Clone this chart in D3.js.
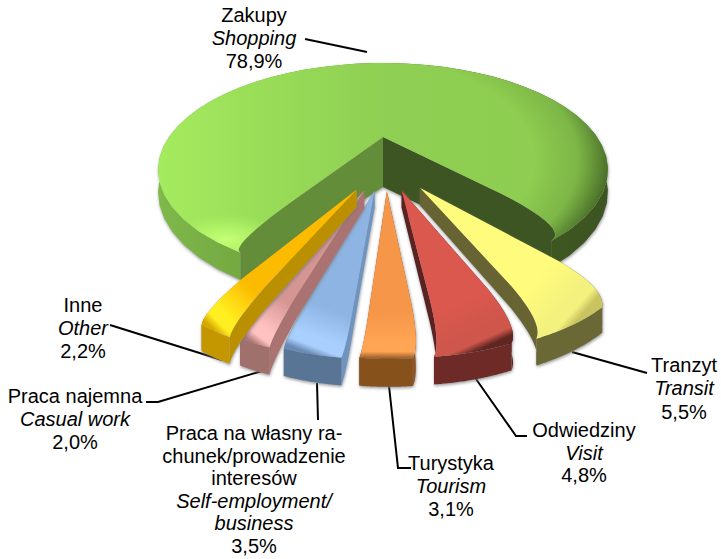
<!DOCTYPE html>
<html><head><meta charset="utf-8">
<script src="https://cdn.jsdelivr.net/npm/d3@7"></script>
<style>html,body{margin:0;padding:0;background:#fff}svg{display:block}text{font-family:"Liberation Sans",Arial,sans-serif;font-size:20px;fill:#000;text-anchor:middle}</style>
</head><body><svg id="c" width="721" height="559"></svg>
<script>
// ---- data ----
const categoriesPL = ["Zakupy","Tranzyt","Odwiedziny","Turystyka","Praca na własny ra-|chunek/prowadzenie|interesów","Praca najemna","Inne"];
const categoriesEN = ["Shopping","Transit","Visit","Tourism","Self-employment/|business","Casual work","Other"];
const values = [78.9,5.5,4.8,3.1,3.5,2.0,2.2];
const valueLabels = ["78,9%","5,5%","4,8%","3,1%","3,5%","2,0%","2,2%"];

// ---- look ----
const faceColors = [
 {top:"#8fcf52",hi:"#8fcf52",rim:"#6f9f3e",side:"#3d5520"},
 {top:"#fffb7c",hi:"#f4f27e",end:"#c9c360",rim:"#6b6735",side:"#686433"},
 {top:"#da594d",hi:"#cf564c",end:"#5f2522",rim:"#6d2927",side:"#5a2320"},
 {top:"#f6964a",hi:"#ffa553",end:"#8f5526",rim:"#87511f",side:"#8f5526"},
 {top:"#8eb4e3",hi:"#a9cfff",end:"#6a8ab4",rim:"#587596",side:"#7094c0"},
 {top:"#d59593",hi:"#ffc2c0",end:"#ac7775",rim:"#a06f6d",side:"#aa7371"},
 {top:"#fdbb00",hi:"#ffee20",end:"#d6a800",rim:"#c49600",side:"#bb9000"}
];

const svg = d3.select("#c");
const defs = svg.append("defs");
const RAD = Math.PI/180;

// ---- projection of the tilted disc, with perspective ----
const persp = 0.308;
const xS = d3.scaleLinear().domain([-1,1]).range([383-214,383+214]);
const yS = d3.scaleLinear().domain([-1,1]).range([137-96.8,137+96.8]);
function P(w,z=0){const s=1/(1-persp*w[1]);return [xS(w[0]*s),yS(w[1]*s)-z*s];}
const line = d3.line();

// ---- pie angles ----
const pie = d3.pie().sort(null).value(d=>d).startAngle(-147.4*RAD).endAngle((360-147.4)*RAD);
const arcs = pie(values);
// phi: angle from the front of the disc, positive to the right
const phiOf = a => Math.PI - a;
const polar = (c,r,phi)=>[c[0]+r*Math.sin(phi),c[1]+r*Math.cos(phi)];

function edge(tip,phi,R,straight,pull,ctrl){
  const cor = polar(tip,R,pull*phi - 1.1*RAD);
  const a = polar(tip,straight*R,phi), b = polar(tip,ctrl*R,phi);
  const pts=[tip,a];
  d3.range(1,13).forEach(i=>{const t=i/12,u=1-t;
    pts.push([u*u*a[0]+2*u*t*b[0]+t*t*cor[0],u*u*a[1]+2*u*t*b[1]+t*t*cor[1]]);});
  return pts;
}
function rimPts(tip,R,phiFrom,phiTo){
  const n=48; return d3.range(n+1).map(i=>polar(tip,R,phiFrom+(phiTo-phiFrom)*i/n));
}

// ---- shadow & gradients ----
const f = defs.append("filter").attr("id","sh").attr("x","-20%").attr("y","-20%").attr("width","140%").attr("height","140%");
f.append("feDropShadow").attr("dx",0.5).attr("dy",1.5).attr("stdDeviation",1.6).attr("flood-color","#777").attr("flood-opacity",0.75);

function lin(id,x1,y1,x2,y2,stops){
  const g=defs.append("linearGradient").attr("id",id).attr("gradientUnits","userSpaceOnUse")
    .attr("x1",x1).attr("y1",y1).attr("x2",x2).attr("y2",y2);
  stops.forEach(s=>g.append("stop").attr("offset",s[0]).attr("stop-color",s[1]).attr("stop-opacity",s[2]===undefined?1:s[2]));
}
function rad(id,cx,cy,rx,ry,stops){
  const g=defs.append("radialGradient").attr("id",id).attr("gradientUnits","userSpaceOnUse")
    .attr("cx",0).attr("cy",0).attr("r",1)
    .attr("gradientTransform",`translate(${cx},${cy}) scale(${rx},${ry})`);
  stops.forEach(s=>g.append("stop").attr("offset",s[0]).attr("stop-color",s[1]).attr("stop-opacity",s[2]));
}

// ---- leader lines ----
const leaders=[
 [[305,39],[367,52]],
 [[647,373],[572,352]],
 [[527,436],[516,436],[476,379]],
 [[411,468],[398,468],[389,386]],
 [[318,420],[317,383]],
 [[146,402],[158,402],[262,371]],
 [[110,325],[222,360]]
];
svg.append("g").selectAll("path").data(leaders).join("path")
  .attr("d",d=>line(d)).attr("fill","none").attr("stroke","#000").attr("stroke-width",2);

// ---- main slice ----
(function(){
  const a=arcs[0], o=[0,0], R=1, pull=0.86;
  const phiL=Math.PI-(a.startAngle+2*Math.PI), phiR=phiOf(a.endAngle); // left edge, right edge
  const eL=edge(o,phiL,R,0.62,pull,1), eR=edge(o,phiR,R,0.62,pull,1);
  // rim runs the long way round, from the left corner over the back to the right corner
  const rim=rimPts(o,R,pull*phiL-1.1*RAD,pull*phiR-1.1*RAD-2*Math.PI);
  const g=svg.append("g").attr("filter","url(#sh)");
  lin("gSide",158,0,607,0,[[0,"#7fb949"],[0.2,"#73a741"],[0.36,"#699a3b"],[0.7,"#41591f"],[1,"#3c5420"]]);
  lin("gTop",158,0,607,0,[[0,"#a5eb5e"],[0.25,"#98dc58"],[0.5,"#8fcf52"],[1,"#8dcc50"]]);
  rad("gDark",340,160,270,150,[[0.72,"#3c5a20",0],[0.88,"#456a26",0.22],[1,"#3c5a20",0.85]]);
  rad("gLight",226,240,60,26,[[0,"#c6ff76",1],[0.5,"#bcfc6e",0.6],[1,"#b0f868",0]]);
  const down=(pts,z)=>pts.map(w=>P(w,z));
  // outer wall
  g.append("path").attr("fill","url(#gSide)")
    .attr("d",line(down(rim,0).concat(down(rim,-20).reverse()))+"Z");
  // cut faces: from the deep centre to the shallower rim
  const face=(e,col)=>g.append("path").attr("fill",col)
    .attr("d",line(down(e,0).concat([P(e[e.length-1],-20),P(o,-50)]))+"Z");
  face(eL,"#648d37"); face(eR,"#3d5520");
  const top=down(rim,0).concat(down(eR,0).reverse(),down(eL,0));
  const d=line(top)+"Z";
  g.append("path").attr("d",d).attr("fill","url(#gTop)");
  g.append("path").attr("d",d).attr("fill","url(#gDark)");
  g.append("path").attr("d",d).attr("fill","url(#gLight)");
})();

// ---- exploded slices ----
const tipRadius=0.478, sliceR=0.845, wallRim=20, wallTip=15, slicePull=0.905, rimDrop=3.5;
arcs.slice(1).forEach((a,i)=>{
  const col=faceColors[i+1];
  const phi0=phiOf(a.startAngle), phi1=phiOf(a.endAngle); // phi0 > phi1
  const mid=(phi0+phi1)/2;
  const tip=polar([0,0],tipRadius,0.5*mid+1.5*RAD);
  const e0=edge(tip,phi0,sliceR,0.76,slicePull,0.96), e1=edge(tip,phi1,sliceR,0.76,slicePull,0.96);
  const rim=rimPts(tip,sliceR,slicePull*phi0-1.1*RAD,slicePull*phi1-1.1*RAD);
  const g=svg.append("g").attr("filter","url(#sh)");
  const wall=(pts)=>pts.map((w,j)=>P(w,-(wallTip+(wallRim-wallTip)*j/(pts.length-1))));
  const crest=(pts)=>pts.map((w,j)=>P(w,j<2?0:-rimDrop*(j-1)/(pts.length-2)));
  [e0,e1].forEach(e=>g.append("path").attr("fill",col.side)
    .attr("d",line(crest(e).concat(wall(e).reverse()))+"Z"));
  const rimTop=rim.map(w=>P(w,-rimDrop)), rimBot=rim.map(w=>P(w,-wallRim));
  g.append("path").attr("fill",col.rim).attr("d",line(rimTop.concat(rimBot.slice().reverse()))+"Z");
  const top=crest(e0).concat(rimTop,crest(e1).reverse());
  const tp=P(tip,0), rc=P(polar(tip,sliceR,slicePull*mid-1.1*RAD),-rimDrop);
  const id="s"+i;
  lin(id,tp[0],tp[1],rc[0],rc[1],[[0,col.top],[0.72,col.top],[0.9,col.hi],[0.955,col.hi],[1,col.end]]);
  g.append("path").attr("d",line(top)+"Z").attr("fill",`url(#${id})`);
});

// ---- labels ----
const labelPos=[[254,22],[684,372],[584,437],[451,470],[254,440],[75,403],[83,312]];
const lineStep=[22.9,23.3,22.7,23,22.6,23,23];
const lab=svg.append("g");
values.forEach((v,i)=>{
  const rows=[];
  categoriesPL[i].split("|").forEach(t=>rows.push([t,false]));
  categoriesEN[i].split("|").forEach(t=>rows.push([t,true]));
  rows.push([valueLabels[i],false]);
  const t=lab.append("text");
  rows.forEach((r,j)=>t.append("tspan").attr("x",labelPos[i][0]).attr("y",labelPos[i][1]+j*lineStep[i])
    .attr("font-style",r[1]?"italic":"normal").text(r[0]));
});
</script></body></html>
